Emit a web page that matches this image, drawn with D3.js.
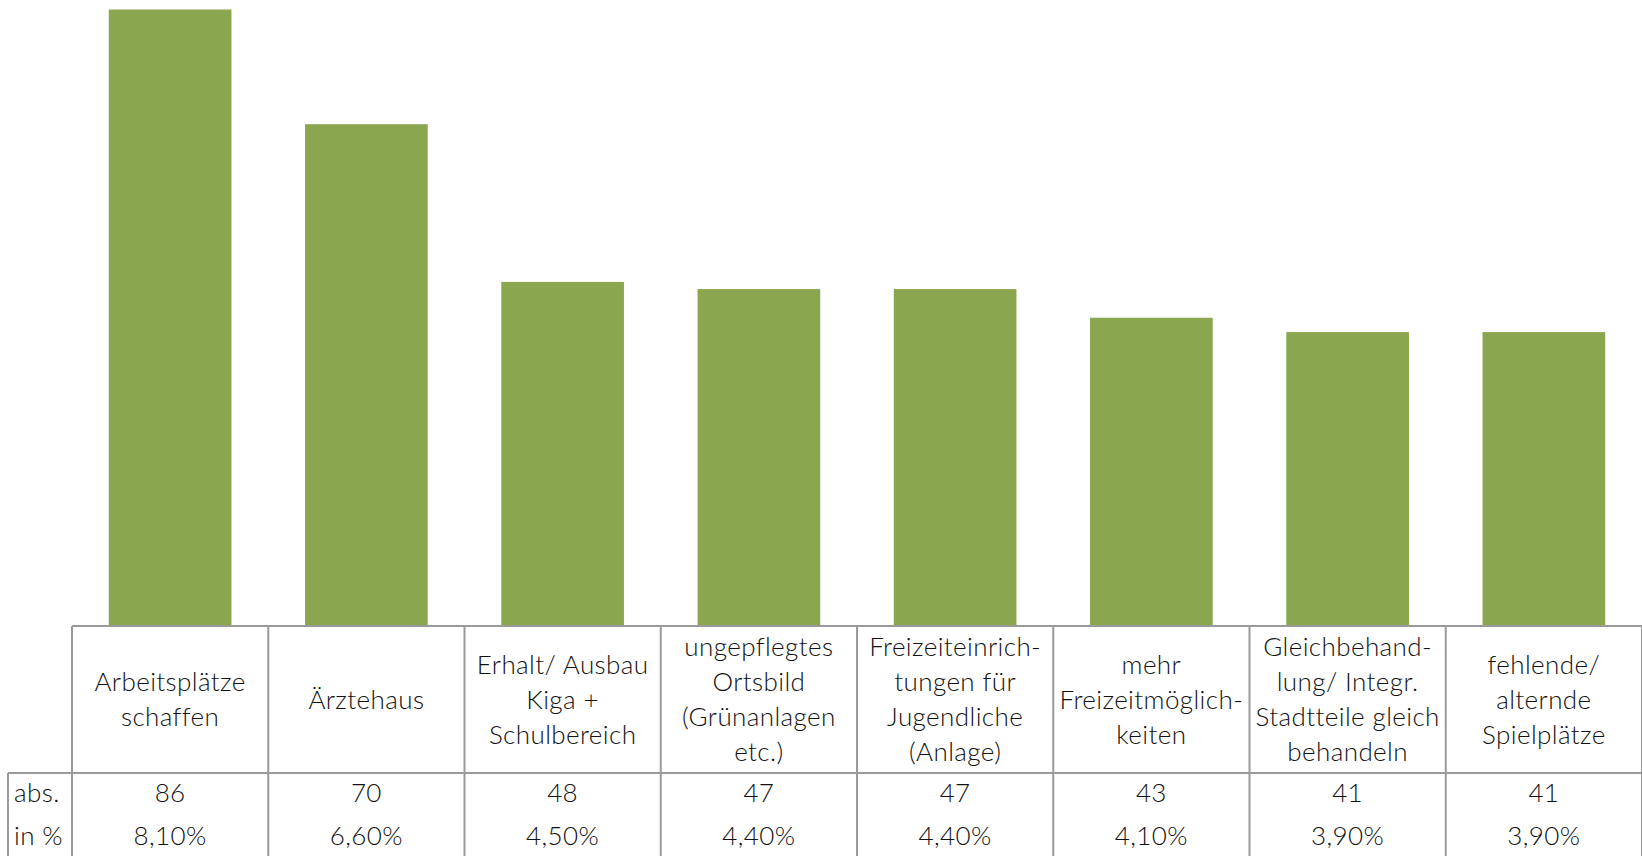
<!DOCTYPE html>
<html lang="de">
<head>
    <meta charset="UTF-8">
    <title>Handlungsbedarf</title>
    <style>
        body { margin: 0; background: #fff; }
        text { font-family: Lato, "Open Sans", sans-serif; font-weight: 300; fill: #111; letter-spacing: 0.4px; }
    </style>
</head>
<body>
    <script src="https://d3js.org/d3.v7.min.js"></script>
    <div id="container"></div>
    <script>
        // data
        var categories = ['Arbeitsplätze schaffen', 'Ärztehaus', 'Erhalt/ Ausbau Kiga + Schulbereich',
            'ungepflegtes Ortsbild (Grünanlagen etc.)', 'Freizeiteinrichtungen für Jugendliche (Anlage)',
            'mehr Freizeitmöglichkeiten', 'Gleichbehandlung/ Integr. Stadtteile gleich behandeln',
            'fehlende/ alternde Spielplätze'];
        var labelLines = [
            ['Arbeitsplätze', 'schaffen'],
            ['Ärztehaus'],
            ['Erhalt/ Ausbau', 'Kiga +', 'Schulbereich'],
            ['ungepflegtes', 'Ortsbild', '(Grünanlagen', 'etc.)'],
            ['Freizeiteinrich-', 'tungen für', 'Jugendliche', '(Anlage)'],
            ['mehr', 'Freizeitmöglich-', 'keiten'],
            ['Gleichbehand-', 'lung/ Integr.', 'Stadtteile gleich', 'behandeln'],
            ['fehlende/', 'alternde', 'Spielplätze']
        ];
        var absValues = [86, 70, 48, 47, 47, 43, 41, 41];
        var pctLabels = ['8,10%', '6,60%', '4,50%', '4,40%', '4,40%', '4,10%', '3,90%', '3,90%'];
        var rowLabels = ['abs.', 'in %'];

        var W = 1642, H = 856;
        var tableLeft = 72, labelLeft = 8;
        var baseY = 626, headerBottom = 773;

        var svg = d3.select('#container').append('svg').attr('width', W).attr('height', H);

        var x = d3.scaleBand().domain(categories).range([tableLeft, W]).padding(0);
        var y = d3.scaleLinear().domain([0, 86]).range([baseY, 9.5]);
        var bw = x.bandwidth();

        // bars
        svg.append('g').selectAll('rect').data(categories).enter()
            .append('rect')
            .attr('x', function(d) { return x(d) + bw * 0.1875; })
            .attr('width', bw * 0.625)
            .attr('y', function(d, i) { return y(absValues[i]); })
            .attr('height', function(d, i) { return baseY - y(absValues[i]); })
            .attr('fill', '#8aa64f');

        // table lines
        var grid = svg.append('g').attr('stroke', '#9a9a9a').attr('stroke-width', 2);
        grid.append('line').attr('x1', tableLeft).attr('x2', W).attr('y1', baseY).attr('y2', baseY);
        grid.append('line').attr('x1', labelLeft).attr('x2', W).attr('y1', headerBottom).attr('y2', headerBottom);
        grid.append('line').attr('x1', labelLeft).attr('x2', labelLeft).attr('y1', headerBottom).attr('y2', H);
        var edges = categories.map(function(d) { return x(d); }).concat([W]);
        grid.selectAll('.v').data(edges).enter().append('line')
            .attr('x1', function(d) { return d; }).attr('x2', function(d) { return d; })
            .attr('y1', baseY).attr('y2', H);

        // header labels
        var fs = 26, lh = 35, midY = (baseY + headerBottom) / 2;
        var heads = svg.append('g').attr('font-size', fs).attr('text-anchor', 'middle');
        categories.forEach(function(c, i) {
            var lines = labelLines[i];
            var t = heads.append('text').attr('x', x(c) + bw / 2);
            lines.forEach(function(s, j) {
                t.append('tspan').attr('x', x(c) + bw / 2)
                    .attr('y', midY + (j - (lines.length - 1) / 2) * lh)
                    .attr('dy', '0.35em').text(s);
            });
        });

        // value rows
        var rowY = [793, 836];
        var rows = svg.append('g').attr('font-size', fs);
        rows.selectAll('.rl').data(rowLabels).enter().append('text')
            .attr('x', 14).attr('y', function(d, i) { return rowY[i]; }).attr('dy', '0.35em').text(function(d) { return d; });
        rows.selectAll('.abs').data(absValues).enter().append('text')
            .attr('text-anchor', 'middle')
            .attr('x', function(d, i) { return x(categories[i]) + bw / 2; })
            .attr('y', rowY[0]).attr('dy', '0.35em').text(function(d) { return d; });
        rows.selectAll('.pct').data(pctLabels).enter().append('text')
            .attr('text-anchor', 'middle')
            .attr('x', function(d, i) { return x(categories[i]) + bw / 2; })
            .attr('y', rowY[1]).attr('dy', '0.35em').text(function(d) { return d; });
    </script>
</body>
</html>
